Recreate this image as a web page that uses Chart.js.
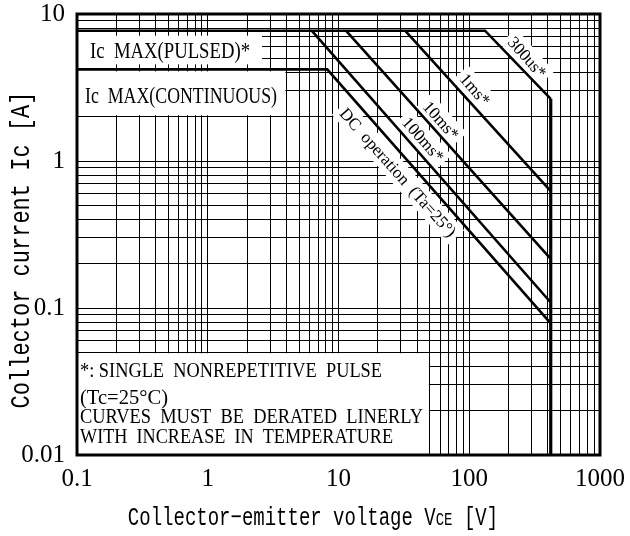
<!DOCTYPE html>
<html><head><meta charset="utf-8">
<script src="https://cdn.jsdelivr.net/npm/chart.js@4.4.1/dist/chart.umd.min.js"></script>
<style>html,body{margin:0;padding:0;background:#fff;}canvas{display:block;}</style>
</head><body>
<canvas id="c" width="630" height="536"></canvas>
<script>
// ---- Axis ticks ----
const xTickValues = [0.1,0.2,0.3,0.4,0.5,0.6,0.7,0.8,0.9,1,2,3,4,5,6,7,8,9,10,20,30,40,50,60,70,80,90,100,200,300,400,500,600,700,800,900,1000];
const xMajorValues = [0.1,1,10,100,1000];
const xTickLabels = ["0.1","1","10","100","1000"];
const yTickValues = [0.01,0.02,0.03,0.04,0.05,0.06,0.07,0.08,0.09,0.1,0.2,0.3,0.4,0.5,0.6,0.7,0.8,0.9,1,2,3,4,5,6,7,8,9,10];
const yMajorValues = [0.01,0.1,1,10];
const yTickLabels = ["0.01","0.1","1","10"];

// ---- Series (VCE [V], IC [A]) ----
const vcePulsed = [0.1, 132, 420];   const icPulsed = [7.7, 7.7, 2.65];   // Ic max pulsed + 300us
const vce1ms    = [32.3, 420];       const ic1ms    = [7.7, 0.623];
const vce10ms   = [11.4, 420];       const ic10ms   = [7.7, 0.216];
const vce100ms  = [6.24, 420];       const ic100ms  = [7.7, 0.109];
const vceDC     = [0.1, 8.2, 420];   const icDC     = [4.2, 4.2, 0.0785];
const vceLimit  = [420, 420];        const icLimit  = [2.65, 0.01];

// ---- Curve labels ----
const curveLabels = ["300us*","1ms*","10ms*","100ms*","DC  operation  (Ta=25°)"];
const labelVce = [277, 110.6, 60.8, 44.3, 28.5];
const labelIc  = [5.06, 3.06, 1.886, 1.40, 0.835];

// ---- Texts ----
const pulsedText = "Ic  MAX(PULSED)*";
const contText = "Ic  MAX(CONTINUOUS)";
const noteLines = ["*: SINGLE  NONREPETITIVE  PULSE","(Tc=25°C)","CURVES  MUST  BE  DERATED  LINERLY","WITH  INCREASE  IN  TEMPERATURE"];
const yTitle = "Collector current Ic [A]";
const xTitleParts = ["Collector\u2212emitter voltage V","CE"," [V]"];

const pts = (xs, ys) => xs.map((v,i)=>({x:v, y:ys[i]}));
const isMajor = (arr, v) => arr.findIndex(m => Math.abs(m - v) / m < 1e-6);

function fitText(ctx, text, x, y, font, targetW){
  ctx.save();
  ctx.font = font;
  const w = ctx.measureText(text).width;
  ctx.translate(x, y);
  ctx.scale(targetW / w, 1);
  ctx.fillText(text, 0, 0);
  ctx.restore();
}

const annot = {
  id: 'annot',
  beforeDatasetsDraw(chart){
    const {ctx, chartArea:a, scales:{x, y}} = chart;
    ctx.save();
    ctx.fillStyle = '#fff';
    const yP = y.getPixelForValue(icPulsed[0]);
    const yC = y.getPixelForValue(icDC[0]);
    // pulsed label box
    ctx.fillRect(a.left, yP + 5, 185, yC - yP - 10);
    // continuous label box
    const y2 = y.getPixelForValue(2);
    ctx.fillRect(a.left, yC + 2, x.getPixelForValue(4) - 1 - a.left, y2 - yC - 3.5);
    // note box
    const nR = x.getPixelForValue(50) - 1, nT = y.getPixelForValue(0.05) + 1;
    ctx.fillRect(a.left, nT, nR - a.left, a.bottom - nT);

    ctx.fillStyle = '#000';
    ctx.textBaseline = 'alphabetic';
    ctx.textAlign = 'left';
    fitText(ctx, pulsedText, 90, 58, '23px "Liberation Serif"', 160);
    fitText(ctx, contText, 85, 103, '23px "Liberation Serif"', 192);
    const nFont = '21px "Liberation Serif"';
    fitText(ctx, noteLines[0], 80, 377, nFont, 302);
    fitText(ctx, noteLines[1], 80, 404, nFont, 88);
    fitText(ctx, noteLines[2], 80, 423, nFont, 343);
    fitText(ctx, noteLines[3], 80, 443, nFont, 313);

    // rotated curve labels
    const ang = Math.atan2(y.getPixelForValue(1) - y.getPixelForValue(10), x.getPixelForValue(10) - x.getPixelForValue(1));
    curveLabels.forEach((t, i) => {
      const cx = x.getPixelForValue(labelVce[i]), cy = y.getPixelForValue(labelIc[i]);
      ctx.save();
      ctx.translate(cx, cy);
      ctx.rotate(ang);
      ctx.font = '17px "Liberation Serif"';
      const w = ctx.measureText(t).width;
      ctx.fillStyle = '#fff';
      ctx.fillRect(-w/2 - 4, -11, w + 8, 22);
      ctx.fillStyle = '#000';
      ctx.textAlign = 'center';
      ctx.textBaseline = 'middle';
      ctx.fillText(t, 0, 1);
      ctx.restore();
    });
    ctx.restore();
  },
  afterDraw(chart){
    const {ctx, chartArea:a} = chart;
    ctx.save();
    ctx.strokeStyle = '#000';
    ctx.lineWidth = 3;
    ctx.strokeRect(a.left, a.top, a.right - a.left, a.bottom - a.top);
    // axis titles
    ctx.fillStyle = '#000';
    ctx.textBaseline = 'middle';
    ctx.textAlign = 'center';
    ctx.save();
    ctx.translate(22, 250);
    ctx.rotate(-Math.PI/2);
    ctx.scale(1, 1.25);
    ctx.font = '22px "Liberation Mono"';
    ctx.fillText(yTitle, 0, 0);
    ctx.restore();
    // x title with small-caps subscript
    const fonts = ['19px "Liberation Mono"','14px "Liberation Mono"','19px "Liberation Mono"'];
    let widths = xTitleParts.map((t,i)=>{ctx.font=fonts[i]; return ctx.measureText(t).width;});
    const total = widths.reduce((s,v)=>s+v,0);
    ctx.save();
    ctx.translate(313 - total/2, 525);
    ctx.scale(1, 1.35);
    let cx = 0;
    ctx.textAlign = 'left';
    ctx.textBaseline = 'alphabetic';
    xTitleParts.forEach((t,i)=>{ ctx.font = fonts[i]; ctx.fillText(t, cx, 0); cx += widths[i]; });
    ctx.restore();
    ctx.restore();
  }
};

const lineDs = (data, w) => ({data, showLine:true, borderColor:'#000', borderWidth:w, pointRadius:0, fill:false, tension:0});

new Chart(document.getElementById('c'), {
  type: 'scatter',
  data: { datasets: [
    lineDs(pts(vcePulsed, icPulsed), 2.6),
    lineDs(pts(vce1ms, ic1ms), 2.6),
    lineDs(pts(vce10ms, ic10ms), 2.6),
    lineDs(pts(vce100ms, ic100ms), 2.6),
    lineDs(pts(vceDC, icDC), 2.6),
    lineDs(pts(vceLimit, icLimit), 3.2)
  ]},
  options: {
    responsive: false,
    animation: false,
    layout: { padding: { left: 0, right: 30, top: 14, bottom: 0 } },
    plugins: { legend: {display:false}, tooltip: {enabled:false} },
    scales: {
      x: {
        type: 'logarithmic', min: 0.1, max: 1000,
        afterFit: s => { s.height = 81; s.paddingLeft = 0; s.paddingRight = 0; },
        afterBuildTicks: s => { s.ticks = xTickValues.map(v => ({value:v})); },
        grid: { color:'#000', lineWidth:1, drawTicks:false },
        border: { display:false },
        ticks: { autoSkip:false, maxRotation:0, minRotation:0, padding:12, color:'#000',
          font:{family:'Liberation Serif', size:25, lineHeight:1},
          callback: v => { const i = isMajor(xMajorValues, v); return i >= 0 ? xTickLabels[i] : ''; } }
      },
      y: {
        type: 'logarithmic', min: 0.01, max: 10,
        afterFit: s => { s.width = 77; s.paddingTop = 0; s.paddingBottom = 0; },
        afterBuildTicks: s => { s.ticks = yTickValues.map(v => ({value:v})); },
        grid: { color:'#000', lineWidth:1, drawTicks:false },
        border: { display:false },
        ticks: { autoSkip:false, padding:12, color:'#000',
          font:{family:'Liberation Serif', size:25, lineHeight:1},
          callback: v => { const i = isMajor(yMajorValues, v); return i >= 0 ? yTickLabels[i] : ''; } }
      }
    }
  },
  plugins: [annot]
});
</script>
</body></html>
